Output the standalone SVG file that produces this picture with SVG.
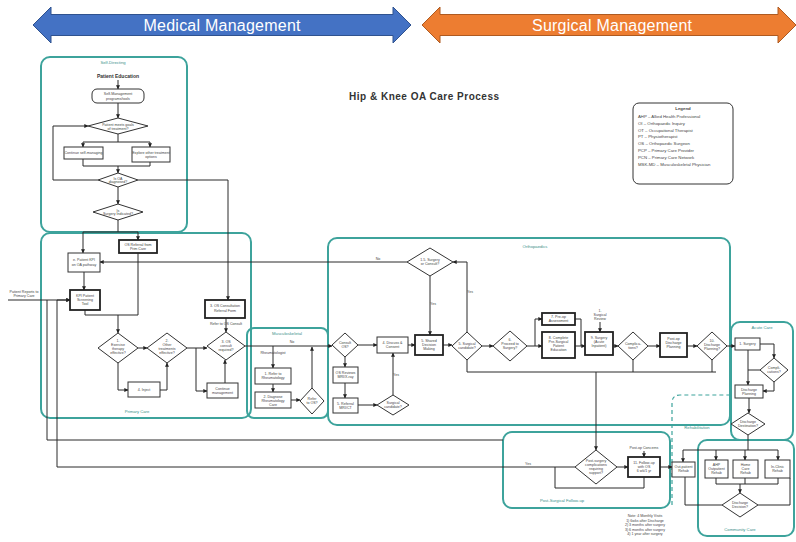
<svg xmlns="http://www.w3.org/2000/svg" width="796" height="542" viewBox="0 0 796 542">
  <defs>
    <marker id="ah" viewBox="0 0 6 6" refX="5.5" refY="3" markerWidth="4" markerHeight="4" orient="auto">
      <path d="M0,0 L6,3 L0,6 z" fill="#222"/>
    </marker>
    <style>
      .lane { fill: none; stroke: #3da39c; stroke-width: 2; }
      .lane-dash { fill: none; stroke: #3da39c; stroke-width: 1.2; stroke-dasharray: 4 3; }
      .box { fill: #fff; stroke: #333; stroke-width: 1; }
      .box-b { fill: #fff; stroke: #222; stroke-width: 1.8; }
      .dia { fill: #fff; stroke: #333; stroke-width: 1; }
      .w { fill: none; stroke: #2a2a2a; stroke-width: 1; }
      .wa { fill: none; stroke: #2a2a2a; stroke-width: 1; marker-end: url(#ah); }
      .t { font-family: "Liberation Sans", Arial, sans-serif; font-size: 3.6px; fill: #444; text-anchor: middle; }
      .tl { font-family: "Liberation Sans", Arial, sans-serif; font-size: 4.2px; fill: #3a8f8a; text-anchor: middle; }
      .lg { font-family: "Liberation Sans", Arial, sans-serif; font-size: 4.3px; fill: #444; }
      .band { font-family: "Liberation Sans", Arial, sans-serif; font-size: 16px; fill: #fff; text-anchor: middle; }
    </style>
  </defs>

  <rect width="796" height="542" fill="#fff"/>

  <!-- management bands -->
  <g id="band-medical">
    <polygon points="33,25 51,7 51,14.5 393,14.5 393,7 411,25 393,43 393,35.5 51,35.5 51,43" fill="#4472c4" stroke="#2f528f" stroke-width="1"/>
    <text class="band" x="222" y="31" textLength="157">Medical Management</text>
  </g>
  <g id="band-surgical">
    <polygon points="422,25 440,7 440,14.5 778,14.5 778,7 796,25 778,43 778,35.5 440,35.5 440,43" fill="#ed7d31" stroke="#ae5a21" stroke-width="1"/>
    <text class="band" x="612" y="31" textLength="160">Surgical Management</text>
  </g>

  <!-- title and legend -->
  <text x="424" y="100" font-family="Liberation Sans, Arial, sans-serif" font-size="10" font-weight="bold" fill="#333" text-anchor="middle" textLength="150">Hip &amp; Knee OA Care Process</text>
  <g id="legend">
    <rect x="633" y="103" width="100" height="81" rx="6" fill="#fff" stroke="#333" stroke-width="1"/>
    <text class="lg" x="683" y="110" text-anchor="middle" font-weight="bold">Legend</text>
    <text class="lg" x="638" y="118">AHP – Allied Health Professional</text>
    <text class="lg" x="638" y="124.8">OI – Orthopaedic Inquiry</text>
    <text class="lg" x="638" y="131.6">OT – Occupational Therapist</text>
    <text class="lg" x="638" y="138.4">PT – Physiotherapist</text>
    <text class="lg" x="638" y="145.2">OS – Orthopaedic Surgeon</text>
    <text class="lg" x="638" y="152">PCP – Primary Care Provider</text>
    <text class="lg" x="638" y="158.8">PCN – Primary Care Network</text>
    <text class="lg" x="638" y="165.6">MSK-MD – Musculoskeletal Physician</text>
  </g>

  <!-- swim-lane containers -->
  <g id="lane-self">
    <rect class="lane" x="41" y="57" width="146" height="175" rx="9"/>
    <text class="tl" x="113" y="64">Self-Directing</text>
  </g>
  <g id="lane-primary">
    <rect class="lane" x="41" y="233" width="210" height="185" rx="9"/>
    <text class="tl" x="137" y="413">Primary Care</text>
  </g>
  <g id="lane-msk">
    <rect class="lane" x="247" y="328" width="81" height="90" rx="7"/>
    <text class="tl" x="287" y="335">Musculoskeletal</text>
  </g>
  <g id="lane-ortho">
    <rect class="lane" x="328" y="238" width="402" height="187" rx="9"/>
    <text class="tl" x="535" y="248">Orthopaedics</text>
  </g>
  <g id="lane-acute">
    <rect class="lane" x="731" y="322" width="62" height="118" rx="9"/>
    <text class="tl" x="762" y="329">Acute Care</text>
  </g>
  <g id="lane-rehab">
    <path class="lane-dash" d="M672,505 V403 Q672,395 680,395 H731"/>
    <text class="tl" x="697" y="429">Rehabilitation</text>
  </g>
  <g id="lane-postsurg">
    <rect class="lane" x="503" y="432" width="167" height="76" rx="9"/>
    <text class="tl" x="562" y="502">Post-Surgical Follow-up</text>
  </g>
  <g id="lane-community">
    <rect class="lane" x="698" y="440" width="96" height="96" rx="9"/>
    <text class="tl" x="740" y="531">Community Care</text>
  </g>

  <!-- connectors -->
  <g id="connectors">
    <!-- self-directing -->
    <path class="wa" d="M118,80 V89"/>
    <path class="wa" d="M118,103 V118"/>
    <path class="w" d="M118,134 V142 M83,142 H150"/>
    <path class="wa" d="M83,142 V147"/>
    <path class="wa" d="M150,142 V147"/>
    <path class="w" d="M83,159 V166 M150,162 V166 M83,166 H150"/>
    <path class="wa" d="M118,166 V173"/>
    <path class="wa" d="M98,180 H53 V126 H88"/>
    <path class="wa" d="M138,180 H228 V300"/>
    <path class="wa" d="M118,187 V204"/>
    <path class="w" d="M118,220 V232 M83,232 H138"/>
    <path class="wa" d="M83,232 V253"/>
    <path class="wa" d="M138,232 V240"/>
    <!-- primary care -->
    <path class="wa" d="M407,262 H100"/>
    <path class="wa" d="M84,272 V290"/>
    <path class="wa" d="M8,300 H70"/>
    <path class="w" d="M138,253 V315 M85,310 V315 M85,315 H138"/>
    <path class="wa" d="M118,315 V333"/>
    <path class="wa" d="M138,348 H147"/>
    <path class="wa" d="M187,348 H207"/>
    <path class="wa" d="M196,348 V391 H207"/>
    <path class="wa" d="M225,383 V360"/>
    <path class="wa" d="M118,363 V390 H128"/>
    <path class="wa" d="M160,390 H167 V363"/>
    <path class="wa" d="M226,318 V332"/>
    <path class="wa" d="M245,346 H332"/>
    <!-- musculoskeletal -->
    <path class="wa" d="M273,346 V368"/>
    <path class="wa" d="M273,384 V392"/>
    <path class="wa" d="M291,400 H300"/>
    <path class="wa" d="M312,388 V347"/>
    <!-- orthopaedics -->
    <path class="wa" d="M430,276 V335"/>
    <path class="wa" d="M467,332 V262 H453"/>
    <path class="wa" d="M358,345 H377"/>
    <path class="wa" d="M408,345 H415"/>
    <path class="wa" d="M443,345 H452"/>
    <path class="wa" d="M482,346 H493"/>
    <path class="w" d="M467,360 V372 H716"/>
    <path class="wa" d="M527,346 H542"/>
    <path class="wa" d="M535,346 V319 H542"/>
    <path class="w" d="M575,319 H581 V346"/>
    <path class="wa" d="M575,346 H585"/>
    <path class="wa" d="M600,322 V332"/>
    <path class="wa" d="M613,346 H618"/>
    <path class="wa" d="M648,346 H660"/>
    <path class="wa" d="M687,346 H697"/>
    <path class="wa" d="M727,346 H735"/>
    <path class="w" d="M633,360 V372 M712,360 V372"/>
    <path class="wa" d="M596,372 V450"/>
    <path class="wa" d="M345,357 V367"/>
    <path class="wa" d="M345,383 V398"/>
    <path class="wa" d="M358,405 H377"/>
    <path class="wa" d="M393,395 V353"/>
    <!-- acute care -->
    <path class="wa" d="M760,344 H774 V358"/>
    <path class="wa" d="M774,382 V391 H763"/>
    <path class="wa" d="M748,350 V385"/>
    <path class="w" d="M760,370 H748"/>
    <path class="wa" d="M749,398 V413"/>
    <path class="w" d="M748,435 V450 M683,450 H778"/>
    <path class="wa" d="M683,450 V462"/>
    <path class="wa" d="M716,450 V460"/>
    <path class="wa" d="M745,450 V460"/>
    <path class="wa" d="M778,450 V460"/>
    <!-- post-surgical and return paths -->
    <path class="wa" d="M575,467 H57 V300 H70"/>
    <path class="w" d="M503,440 H47 V300"/>
    <path class="wa" d="M617,467 H628"/>
    <path class="w" d="M644,477 V488 H555 V467"/>
    <path class="wa" d="M644,451 V457"/>
    <path class="wa" d="M660,467 H672"/>
    <!-- community care -->
    <path class="w" d="M716,478 V484 M745,478 V484 M778,478 V484 M716,484 H778"/>
    <path class="wa" d="M740,484 V493"/>
    <path class="w" d="M722,505 H685 V477"/>
    <path class="w" d="M758,505 H790 V478"/>
  </g>

  <!-- self-directing nodes -->
  <g id="patient-education">
    <text x="118" y="78" font-family="Liberation Sans, Arial, sans-serif" font-size="5" font-weight="bold" fill="#333" text-anchor="middle">Patient Education</text>
  </g>
  <g id="self-management">
    <rect class="box" x="92" y="89" width="52" height="14" rx="5"/>
    <text class="t" x="118" y="95">Self-Management</text>
    <text class="t" x="118" y="99.5">programs/tools</text>
  </g>
  <g id="meets-goals">
    <polygon class="dia" points="88,126 118,118 148,126 118,134"/>
    <text class="t" x="118" y="125.5">Patient meets goals</text>
    <text class="t" x="118" y="129.5">of treatment?</text>
  </g>
  <g id="continue-self">
    <rect class="box" x="64" y="147" width="39" height="12"/>
    <text class="t" x="83.5" y="154.3">Continue self-managing</text>
  </g>
  <g id="explore-options">
    <rect class="box" x="132" y="147" width="38" height="15"/>
    <text class="t" x="151" y="153.5">Explore other treatment</text>
    <text class="t" x="151" y="158">options</text>
  </g>
  <g id="oa-diagnosed">
    <polygon class="dia" points="98,180 118,173 138,180 118,187"/>
    <text class="t" x="118" y="179.5">Is OA</text>
    <text class="t" x="118" y="183">diagnosed?</text>
  </g>
  <g id="surgery-indicated">
    <polygon class="dia" points="93,212 118,204 143,212 118,220"/>
    <text class="t" x="118" y="211.5">Is</text>
    <text class="t" x="118" y="215">Surgery Indicated?</text>
  </g>

  <!-- primary care nodes -->
  <g id="patient-kpi">
    <rect class="box" x="68" y="253" width="32" height="19"/>
    <text class="t" x="84" y="261">e. Patient KPI</text>
    <text class="t" x="84" y="265.5">on OA pathway</text>
  </g>
  <g id="os-referral">
    <rect class="box-b" x="119" y="240" width="38" height="13"/>
    <text class="t" x="138" y="245.5">OS Referral from</text>
    <text class="t" x="138" y="249.5">Prim Care</text>
  </g>
  <g id="screening-tool">
    <rect class="box-b" x="70" y="290" width="30" height="20"/>
    <text class="t" x="85" y="297">KPI Patient</text>
    <text class="t" x="85" y="301">Screening</text>
    <text class="t" x="85" y="305">Tool</text>
  </g>
  <g id="patient-reports">
    <text class="t" x="24" y="293">Patient Reports to</text>
    <text class="t" x="24" y="297">Primary Care</text>
  </g>
  <g id="exercise">
    <polygon class="dia" points="98,348 118,333 138,348 118,363"/>
    <text class="t" x="118" y="342">1.</text>
    <text class="t" x="118" y="346">Exercise</text>
    <text class="t" x="118" y="350">therapy</text>
    <text class="t" x="118" y="354">effective?</text>
  </g>
  <g id="other-treatments">
    <polygon class="dia" points="147,348 167,333 187,348 167,363"/>
    <text class="t" x="167" y="342">2.</text>
    <text class="t" x="167" y="346">Other</text>
    <text class="t" x="167" y="350">treatments</text>
    <text class="t" x="167" y="354">effective?</text>
  </g>
  <g id="os-consult-required">
    <polygon class="dia" points="207,346 226,332 245,346 226,360"/>
    <text class="t" x="226" y="343">3. OS</text>
    <text class="t" x="226" y="347">consult</text>
    <text class="t" x="226" y="351">required?</text>
  </g>
  <g id="consult-referral">
    <rect class="box-b" x="205" y="300" width="40" height="18"/>
    <text class="t" x="225" y="307">3. OS Consultation</text>
    <text class="t" x="225" y="311.5">Referral Form</text>
    <text class="t" x="226" y="325">Refer to OS Consult</text>
  </g>
  <g id="continue-management">
    <rect class="box" x="207" y="383" width="31" height="15"/>
    <text class="t" x="222.5" y="389.5">Continue</text>
    <text class="t" x="222.5" y="393.5">management</text>
  </g>
  <g id="inject">
    <rect class="box" x="128" y="382" width="32" height="15"/>
    <text class="t" x="144" y="391">4. Inject</text>
  </g>

  <!-- musculoskeletal nodes -->
  <g id="rheumatologist">
    <text class="t" x="273" y="354">Rheumatologist</text>
  </g>
  <g id="refer-rheum">
    <rect class="box" x="255" y="368" width="36" height="16"/>
    <text class="t" x="273" y="375">1. Refer to</text>
    <text class="t" x="273" y="379">Rheumatology</text>
  </g>
  <g id="diagnose-rheum">
    <rect class="box" x="255" y="392" width="36" height="16"/>
    <text class="t" x="273" y="397.5">2. Diagnose</text>
    <text class="t" x="273" y="401.5">Rheumatology</text>
    <text class="t" x="273" y="405.5">Care</text>
  </g>
  <g id="refer-os">
    <polygon class="dia" points="300,401 312,388 324,401 312,414"/>
    <text class="t" x="312" y="400">Refer</text>
    <text class="t" x="312" y="404">to OS?</text>
  </g>
  <text class="t" x="292" y="343">No</text>

  <!-- orthopaedics nodes -->
  <g id="surgery-or-consult">
    <polygon class="dia" points="407,262 430,248 453,262 430,276"/>
    <text class="t" x="430" y="261">1.5. Surgery</text>
    <text class="t" x="430" y="265">or Consult?</text>
  </g>
  <text class="t" x="378" y="260">No</text>
  <text class="t" x="433" y="305">Yes</text>
  <text class="t" x="470" y="293">Yes</text>
  <g id="consult-os">
    <polygon class="dia" points="332,345 345,333 358,345 345,357"/>
    <text class="t" x="345" y="344">Consult</text>
    <text class="t" x="345" y="348">OS?</text>
  </g>
  <g id="discuss-consent">
    <rect class="box" x="377" y="337" width="31" height="16"/>
    <text class="t" x="392.5" y="344">4. Discuss &amp;</text>
    <text class="t" x="392.5" y="348">Consent</text>
  </g>
  <g id="shared-decision">
    <rect class="box-b" x="415" y="335" width="28" height="20"/>
    <text class="t" x="429" y="341.5">5. Shared</text>
    <text class="t" x="429" y="345.5">Decision</text>
    <text class="t" x="429" y="349.5">Making</text>
  </g>
  <g id="surgical-candidate">
    <polygon class="dia" points="452,346 467,332 482,346 467,360"/>
    <text class="t" x="467" y="345">5. Surgical</text>
    <text class="t" x="467" y="349">candidate?</text>
  </g>
  <g id="proceed-surgery">
    <polygon class="dia" points="493,346 510,331 527,346 510,361"/>
    <text class="t" x="510" y="341">6.</text>
    <text class="t" x="510" y="345">Proceed to</text>
    <text class="t" x="510" y="349">Surgery?</text>
  </g>
  <g id="preop-assessment">
    <rect class="box-b" x="542" y="313" width="33" height="12"/>
    <text class="t" x="558.5" y="318">7. Pre-op</text>
    <text class="t" x="558.5" y="322">Assessment</text>
  </g>
  <g id="patient-education-presurg">
    <rect class="box-b" x="542" y="332" width="33" height="26"/>
    <text class="t" x="558.5" y="339">8. Complete</text>
    <text class="t" x="558.5" y="343">Pre-Surgical</text>
    <text class="t" x="558.5" y="347">Patient</text>
    <text class="t" x="558.5" y="351">Education</text>
  </g>
  <g id="surgical-review">
    <text class="t" x="600" y="312">1.</text>
    <text class="t" x="600" y="316">Surgical</text>
    <text class="t" x="600" y="320">Review</text>
  </g>
  <g id="surgery-acute">
    <rect class="box-b" x="585" y="332" width="28" height="23"/>
    <text class="t" x="599" y="339">9. Surgery</text>
    <text class="t" x="599" y="343">(Acute</text>
    <text class="t" x="599" y="347">Inpatient)</text>
  </g>
  <g id="complications">
    <polygon class="dia" points="618,346 633,332 648,346 633,360"/>
    <text class="t" x="633" y="345">Complica-</text>
    <text class="t" x="633" y="349">tions?</text>
  </g>
  <g id="postop-discharge">
    <rect class="box-b" x="660" y="333" width="27" height="24"/>
    <text class="t" x="673.5" y="340">Post-op</text>
    <text class="t" x="673.5" y="344">Discharge</text>
    <text class="t" x="673.5" y="348">Planning</text>
  </g>
  <g id="discharge-planning">
    <polygon class="dia" points="697,346 712,332 727,346 712,360"/>
    <text class="t" x="712" y="342">10.</text>
    <text class="t" x="712" y="346">Discharge</text>
    <text class="t" x="712" y="350">Planning?</text>
  </g>
  <g id="os-reviews">
    <rect class="box" x="333" y="367" width="25" height="16"/>
    <text class="t" x="345.5" y="374">OS Reviews</text>
    <text class="t" x="345.5" y="378">MRI/X-ray</text>
  </g>
  <g id="referral-mri">
    <rect class="box" x="333" y="398" width="25" height="15"/>
    <text class="t" x="345.5" y="404.5">5. Referral</text>
    <text class="t" x="345.5" y="408.5">MRI/CT</text>
  </g>
  <g id="surgical-candidate-2">
    <polygon class="dia" points="377,405 393,395 409,405 393,415"/>
    <text class="t" x="393" y="404">Surgical</text>
    <text class="t" x="393" y="408">candidate?</text>
  </g>
  <text class="t" x="396" y="376">Yes</text>

  <!-- acute care nodes -->
  <g id="acute-surgery">
    <rect class="box" x="735" y="338" width="25" height="12"/>
    <text class="t" x="747.5" y="345.3">1. Surgery</text>
  </g>
  <g id="acute-complications">
    <polygon class="dia" points="760,370 774,358 788,370 774,382"/>
    <text class="t" x="774" y="369">Compli-</text>
    <text class="t" x="774" y="373">cations?</text>
  </g>
  <g id="acute-discharge">
    <rect class="box" x="735" y="385" width="28" height="13"/>
    <text class="t" x="749" y="390.5">Discharge</text>
    <text class="t" x="749" y="394.5">Planning</text>
  </g>
  <g id="discharge-destination">
    <polygon class="dia" points="731,424 748,413 765,424 748,435"/>
    <text class="t" x="748" y="423">Discharge</text>
    <text class="t" x="748" y="427">Destination?</text>
  </g>

  <!-- post-surgical nodes -->
  <g id="postsurg-support">
    <polygon class="dia" points="575,467 596,450 617,467 596,484"/>
    <text class="t" x="596" y="462">Post-surgery</text>
    <text class="t" x="596" y="466">complications</text>
    <text class="t" x="596" y="470">requiring</text>
    <text class="t" x="596" y="474">support?</text>
  </g>
  <text class="t" x="528" y="465">Yes</text>
  <g id="followup-os">
    <rect class="box-b" x="628" y="457" width="32" height="20"/>
    <text class="t" x="644" y="463.5">11. Follow-up</text>
    <text class="t" x="644" y="467.5">with OS</text>
    <text class="t" x="644" y="471.5">6 wk/1 yr</text>
  </g>
  <g id="postop-concerns">
    <text class="t" x="644" y="449">Post-op Concerns</text>
  </g>
  <g id="visit-note">
    <text class="t" x="645" y="517">Note: 4 Monthly Visits</text>
    <text class="t" x="645" y="521.5">1) 6wks after Discharge</text>
    <text class="t" x="645" y="526">2) 3 months after surgery</text>
    <text class="t" x="645" y="530.5">3) 6 months after surgery</text>
    <text class="t" x="645" y="535">4) 1 year after surgery</text>
  </g>

  <!-- rehabilitation / community nodes -->
  <g id="outpatient-rehab">
    <rect class="box" x="672" y="462" width="23" height="15"/>
    <text class="t" x="683.5" y="468">Out-patient</text>
    <text class="t" x="683.5" y="472">Rehab</text>
  </g>
  <g id="ahp-rehab">
    <rect class="box" x="705" y="460" width="23" height="18"/>
    <text class="t" x="716.5" y="466">AHP</text>
    <text class="t" x="716.5" y="470">Outpatient</text>
    <text class="t" x="716.5" y="474">Rehab</text>
  </g>
  <g id="home-rehab">
    <rect class="box" x="733" y="460" width="25" height="18"/>
    <text class="t" x="745.5" y="466">Home</text>
    <text class="t" x="745.5" y="470">Care</text>
    <text class="t" x="745.5" y="474">Rehab</text>
  </g>
  <g id="clinic-rehab">
    <rect class="box" x="765" y="460" width="25" height="18"/>
    <text class="t" x="777.5" y="467.5">In-Clinic</text>
    <text class="t" x="777.5" y="471.5">Rehab</text>
  </g>
  <g id="discharge-decision">
    <polygon class="dia" points="722,505 740,493 758,505 740,517"/>
    <text class="t" x="740" y="504">Discharge</text>
    <text class="t" x="740" y="508">Decision?</text>
  </g>
</svg>
